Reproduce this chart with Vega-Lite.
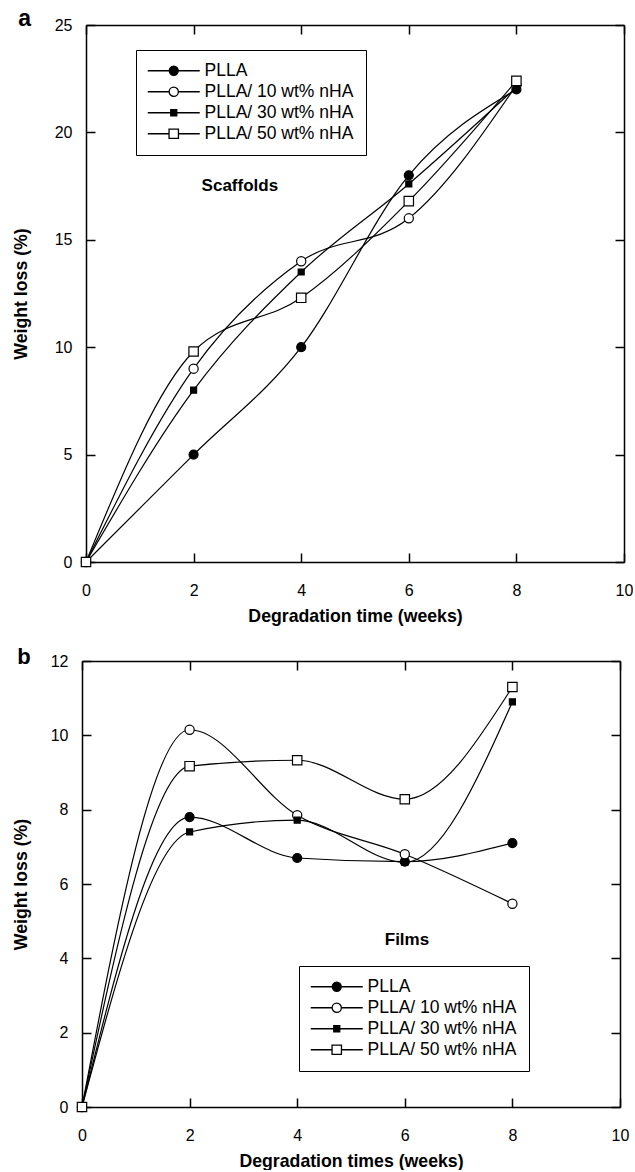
{
  "$schema": "https://vega.github.io/schema/vega-lite/v6.json",
  "background": "white",
  "padding": {"left": 12, "top": 8, "right": 0, "bottom": 0},
  "spacing": 21,
  "config": {
    "font": "Liberation Sans",
    "view": {"stroke": null},
    "axis": {
      "domain": true, "domainColor": "black", "domainWidth": 1.5, "grid": false, "tickColor": "black", "tickWidth": 1.5, "tickSize": -9,
      "labelFont": "Liberation Sans", "labelFontSize": 16, "labelColor": "black",
      "labelFlush": false, "labelOverlap": false,
      "titleFont": "Liberation Sans", "titleFontSize": 17.7, "titleFontWeight": "bold", "titleColor": "black"
    },
    "legend": {
      "title": null, "orient": "none", "padding": 12, "strokeColor": "black", "fillColor": "white",
      "symbolSize": 100, "symbolStrokeWidth": 1.3, "symbolStrokeColor": "black", "symbolOffset": 0, "labelOffset": 39,
      "labelFont": "Liberation Sans", "labelFontSize": 17.5, "labelColor": "black", "labelLimit": 300, "rowPadding": 2
    },
    "title": {"font": "Liberation Sans", "fontWeight": "bold", "color": "black", "anchor": "start", "frame": "bounds"}
  },
  "datasets": {
    "scaffolds": [
      {"series": "PLLA", "week": 0, "loss": 0},
      {"series": "PLLA", "week": 2, "loss": 5},
      {"series": "PLLA", "week": 4, "loss": 10},
      {"series": "PLLA", "week": 6, "loss": 18},
      {"series": "PLLA", "week": 8, "loss": 22.0},
      {"series": "PLLA/ 10 wt% nHA", "week": 0, "loss": 0},
      {"series": "PLLA/ 10 wt% nHA", "week": 2, "loss": 9},
      {"series": "PLLA/ 10 wt% nHA", "week": 4, "loss": 14},
      {"series": "PLLA/ 10 wt% nHA", "week": 6, "loss": 16},
      {"series": "PLLA/ 10 wt% nHA", "week": 8, "loss": 22.2},
      {"series": "PLLA/ 30 wt% nHA", "week": 0, "loss": 0},
      {"series": "PLLA/ 30 wt% nHA", "week": 2, "loss": 8},
      {"series": "PLLA/ 30 wt% nHA", "week": 4, "loss": 13.5},
      {"series": "PLLA/ 30 wt% nHA", "week": 6, "loss": 17.6},
      {"series": "PLLA/ 30 wt% nHA", "week": 8, "loss": 22.1},
      {"series": "PLLA/ 50 wt% nHA", "week": 0, "loss": 0},
      {"series": "PLLA/ 50 wt% nHA", "week": 2, "loss": 9.8},
      {"series": "PLLA/ 50 wt% nHA", "week": 4, "loss": 12.3},
      {"series": "PLLA/ 50 wt% nHA", "week": 6, "loss": 16.8},
      {"series": "PLLA/ 50 wt% nHA", "week": 8, "loss": 22.4}
    ],
    "films": [
      {"series": "PLLA", "week": 0, "loss": 0},
      {"series": "PLLA", "week": 2, "loss": 7.8},
      {"series": "PLLA", "week": 4, "loss": 6.7},
      {"series": "PLLA", "week": 6, "loss": 6.6},
      {"series": "PLLA", "week": 8, "loss": 7.1},
      {"series": "PLLA/ 10 wt% nHA", "week": 0, "loss": 0},
      {"series": "PLLA/ 10 wt% nHA", "week": 2, "loss": 10.15},
      {"series": "PLLA/ 10 wt% nHA", "week": 4, "loss": 7.85},
      {"series": "PLLA/ 10 wt% nHA", "week": 6, "loss": 6.8},
      {"series": "PLLA/ 10 wt% nHA", "week": 8, "loss": 5.47},
      {"series": "PLLA/ 30 wt% nHA", "week": 0, "loss": 0},
      {"series": "PLLA/ 30 wt% nHA", "week": 2, "loss": 7.4},
      {"series": "PLLA/ 30 wt% nHA", "week": 4, "loss": 7.72},
      {"series": "PLLA/ 30 wt% nHA", "week": 6, "loss": 6.58},
      {"series": "PLLA/ 30 wt% nHA", "week": 8, "loss": 10.9},
      {"series": "PLLA/ 50 wt% nHA", "week": 0, "loss": 0},
      {"series": "PLLA/ 50 wt% nHA", "week": 2, "loss": 9.17},
      {"series": "PLLA/ 50 wt% nHA", "week": 4, "loss": 9.33},
      {"series": "PLLA/ 50 wt% nHA", "week": 6, "loss": 8.28},
      {"series": "PLLA/ 50 wt% nHA", "week": 8, "loss": 11.3}
    ],
    "labelA": [{"label": "Scaffolds"}],
    "labelB": [{"label": "Films"}]
  },
  "vconcat": [
    {
      "width": 542, "height": 537,
      "title": {"text": "a", "fontSize": 23, "offset": -14, "dx": 6},
      "data": {"name": "scaffolds"},
      "resolve": {"axis": {"x": "independent", "y": "independent"}, "scale": {"shape": "independent", "fill": "independent", "stroke": "independent"}},
      "layer": [
        {
          "mark": {"type": "line", "interpolate": "monotone", "color": "black", "strokeWidth": 1.2},
          "encoding": {
            "x": {"field": "week", "type": "quantitative", "scale": {"domain": [0, 10], "nice": false, "range": [4, 542]},
                  "axis": {"orient": "bottom", "values": [0, 2, 4, 6, 8, 10], "title": "Degradation time (weeks)", "labelPadding": 29, "titlePadding": 9}},
            "y": {"field": "loss", "type": "quantitative", "scale": {"domain": [0, 25], "nice": false},
                  "axis": {"orient": "left", "offset": -4, "values": [0, 5, 10, 15, 20, 25], "title": "Weight loss (%)", "labelPadding": 23, "titlePadding": 24}},
            "detail": {"field": "series"}
          }
        },
        {
          "mark": {"type": "point", "size": 100, "stroke": "black", "strokeWidth": 1.2, "opacity": 1},
          "encoding": {
            "x": {"field": "week", "type": "quantitative", "axis": {"orient": "top", "labels": false, "title": null, "values": [0, 2, 4, 6, 8, 10]}},
            "y": {"field": "loss", "type": "quantitative", "axis": {"orient": "right", "labels": false, "title": null, "values": [0, 5, 10, 15, 20, 25]}},
            "shape": {"field": "series", "type": "nominal", "legend": null,
                      "scale": {"domain": ["PLLA", "PLLA/ 10 wt% nHA", "PLLA/ 30 wt% nHA", "PLLA/ 50 wt% nHA"],
                                "range": ["M-0.9,0A0.9,0.9,0,1,0,0.9,0A0.9,0.9,0,1,0,-0.9,0Z", "M-0.92,0A0.92,0.92,0,1,0,0.92,0A0.92,0.92,0,1,0,-0.92,0Z", "M-0.6,-0.6H0.6V0.6H-0.6Z", "M-0.94,-0.94H0.94V0.94H-0.94Z"]}},
            "fill": {"field": "series", "type": "nominal", "legend": null,
                     "scale": {"domain": ["PLLA", "PLLA/ 10 wt% nHA", "PLLA/ 30 wt% nHA", "PLLA/ 50 wt% nHA"], "range": ["black", "white", "black", "white"]}}
          }
        },
        {
          "transform": [{"filter": "false"}],
          "mark": {"type": "point", "size": 100, "strokeWidth": 1.3, "opacity": 1},
          "encoding": {
            "shape": {"field": "series", "type": "nominal",
                      "scale": {"domain": ["PLLA", "PLLA/ 10 wt% nHA", "PLLA/ 30 wt% nHA", "PLLA/ 50 wt% nHA"],
                                "range": ["M-1.8,0H8.6M2.5,0A0.9,0.9,0,1,0,4.3,0A0.9,0.9,0,1,0,2.5,0Z", "M-1.8,0H2.48M4.32,0H8.6M2.48,0A0.92,0.92,0,1,0,4.32,0A0.92,0.92,0,1,0,2.48,0Z", "M-1.8,0H8.6M2.8,-0.6H4V0.6H2.8Z", "M-1.8,0H2.46M4.34,0H8.6M2.46,-0.94H4.34V0.94H2.46Z"]},
                      "legend": {"legendX": 54, "legendY": 25}},
            "fill": {"field": "series", "type": "nominal",
                     "scale": {"domain": ["PLLA", "PLLA/ 10 wt% nHA", "PLLA/ 30 wt% nHA", "PLLA/ 50 wt% nHA"], "range": ["black", "white", "black", "white"]},
                     "legend": {"legendX": 54, "legendY": 25}},
            "stroke": {"field": "series", "type": "nominal",
                       "scale": {"domain": ["PLLA", "PLLA/ 10 wt% nHA", "PLLA/ 30 wt% nHA", "PLLA/ 50 wt% nHA"], "range": ["black", "black", "black", "black"]},
                       "legend": {"legendX": 54, "legendY": 25}}
          }
        },
        {
          "data": {"name": "labelA"},
          "mark": {"type": "text", "font": "Liberation Sans", "fontSize": 17, "fontWeight": "bold", "color": "black", "align": "center", "baseline": "middle"},
          "encoding": {
            "x": {"datum": 2.86, "type": "quantitative", "axis": null},
            "y": {"datum": 17.5, "type": "quantitative", "axis": null},
            "text": {"field": "label"}
          }
        }
      ]
    },
    {
      "width": 538, "height": 446,
      "title": {"text": "b", "fontSize": 22, "offset": -16, "dx": 5},
      "data": {"name": "films"},
      "resolve": {"axis": {"x": "independent", "y": "independent"}, "scale": {"shape": "independent", "fill": "independent", "stroke": "independent"}},
      "layer": [
        {
          "mark": {"type": "line", "interpolate": "monotone", "color": "black", "strokeWidth": 1.2},
          "encoding": {
            "x": {"field": "week", "type": "quantitative", "scale": {"domain": [0, 10], "nice": false},
                  "axis": {"orient": "bottom", "values": [0, 2, 4, 6, 8, 10], "title": "Degradation times (weeks)", "labelPadding": 29, "titlePadding": 9}},
            "y": {"field": "loss", "type": "quantitative", "scale": {"domain": [0, 12], "nice": false},
                  "axis": {"orient": "left", "values": [0, 2, 4, 6, 8, 10, 12], "title": "Weight loss (%)", "labelPadding": 23, "titlePadding": 20}},
            "detail": {"field": "series"}
          }
        },
        {
          "mark": {"type": "point", "size": 100, "stroke": "black", "strokeWidth": 1.2, "opacity": 1},
          "encoding": {
            "x": {"field": "week", "type": "quantitative", "axis": {"orient": "top", "labels": false, "title": null, "values": [0, 2, 4, 6, 8, 10]}},
            "y": {"field": "loss", "type": "quantitative", "axis": {"orient": "right", "labels": false, "title": null, "values": [0, 2, 4, 6, 8, 10, 12]}},
            "shape": {"field": "series", "type": "nominal", "legend": null,
                      "scale": {"domain": ["PLLA", "PLLA/ 10 wt% nHA", "PLLA/ 30 wt% nHA", "PLLA/ 50 wt% nHA"],
                                "range": ["M-0.9,0A0.9,0.9,0,1,0,0.9,0A0.9,0.9,0,1,0,-0.9,0Z", "M-0.92,0A0.92,0.92,0,1,0,0.92,0A0.92,0.92,0,1,0,-0.92,0Z", "M-0.6,-0.6H0.6V0.6H-0.6Z", "M-0.94,-0.94H0.94V0.94H-0.94Z"]}},
            "fill": {"field": "series", "type": "nominal", "legend": null,
                     "scale": {"domain": ["PLLA", "PLLA/ 10 wt% nHA", "PLLA/ 30 wt% nHA", "PLLA/ 50 wt% nHA"], "range": ["black", "white", "black", "white"]}}
          }
        },
        {
          "transform": [{"filter": "false"}],
          "mark": {"type": "point", "size": 100, "strokeWidth": 1.3, "opacity": 1},
          "encoding": {
            "shape": {"field": "series", "type": "nominal",
                      "scale": {"domain": ["PLLA", "PLLA/ 10 wt% nHA", "PLLA/ 30 wt% nHA", "PLLA/ 50 wt% nHA"],
                                "range": ["M-1.8,0H8.6M2.5,0A0.9,0.9,0,1,0,4.3,0A0.9,0.9,0,1,0,2.5,0Z", "M-1.8,0H2.48M4.32,0H8.6M2.48,0A0.92,0.92,0,1,0,4.32,0A0.92,0.92,0,1,0,2.48,0Z", "M-1.8,0H8.6M2.8,-0.6H4V0.6H2.8Z", "M-1.8,0H2.46M4.34,0H8.6M2.46,-0.94H4.34V0.94H2.46Z"]},
                      "legend": {"legendX": 217, "legendY": 305}},
            "fill": {"field": "series", "type": "nominal",
                     "scale": {"domain": ["PLLA", "PLLA/ 10 wt% nHA", "PLLA/ 30 wt% nHA", "PLLA/ 50 wt% nHA"], "range": ["black", "white", "black", "white"]},
                     "legend": {"legendX": 217, "legendY": 305}},
            "stroke": {"field": "series", "type": "nominal",
                       "scale": {"domain": ["PLLA", "PLLA/ 10 wt% nHA", "PLLA/ 30 wt% nHA", "PLLA/ 50 wt% nHA"], "range": ["black", "black", "black", "black"]},
                       "legend": {"legendX": 217, "legendY": 305}}
          }
        },
        {
          "data": {"name": "labelB"},
          "mark": {"type": "text", "font": "Liberation Sans", "fontSize": 17, "fontWeight": "bold", "color": "black", "align": "center", "baseline": "middle"},
          "encoding": {
            "x": {"datum": 6.04, "type": "quantitative", "axis": null},
            "y": {"datum": 4.5, "type": "quantitative", "axis": null},
            "text": {"field": "label"}
          }
        }
      ]
    }
  ]
}
